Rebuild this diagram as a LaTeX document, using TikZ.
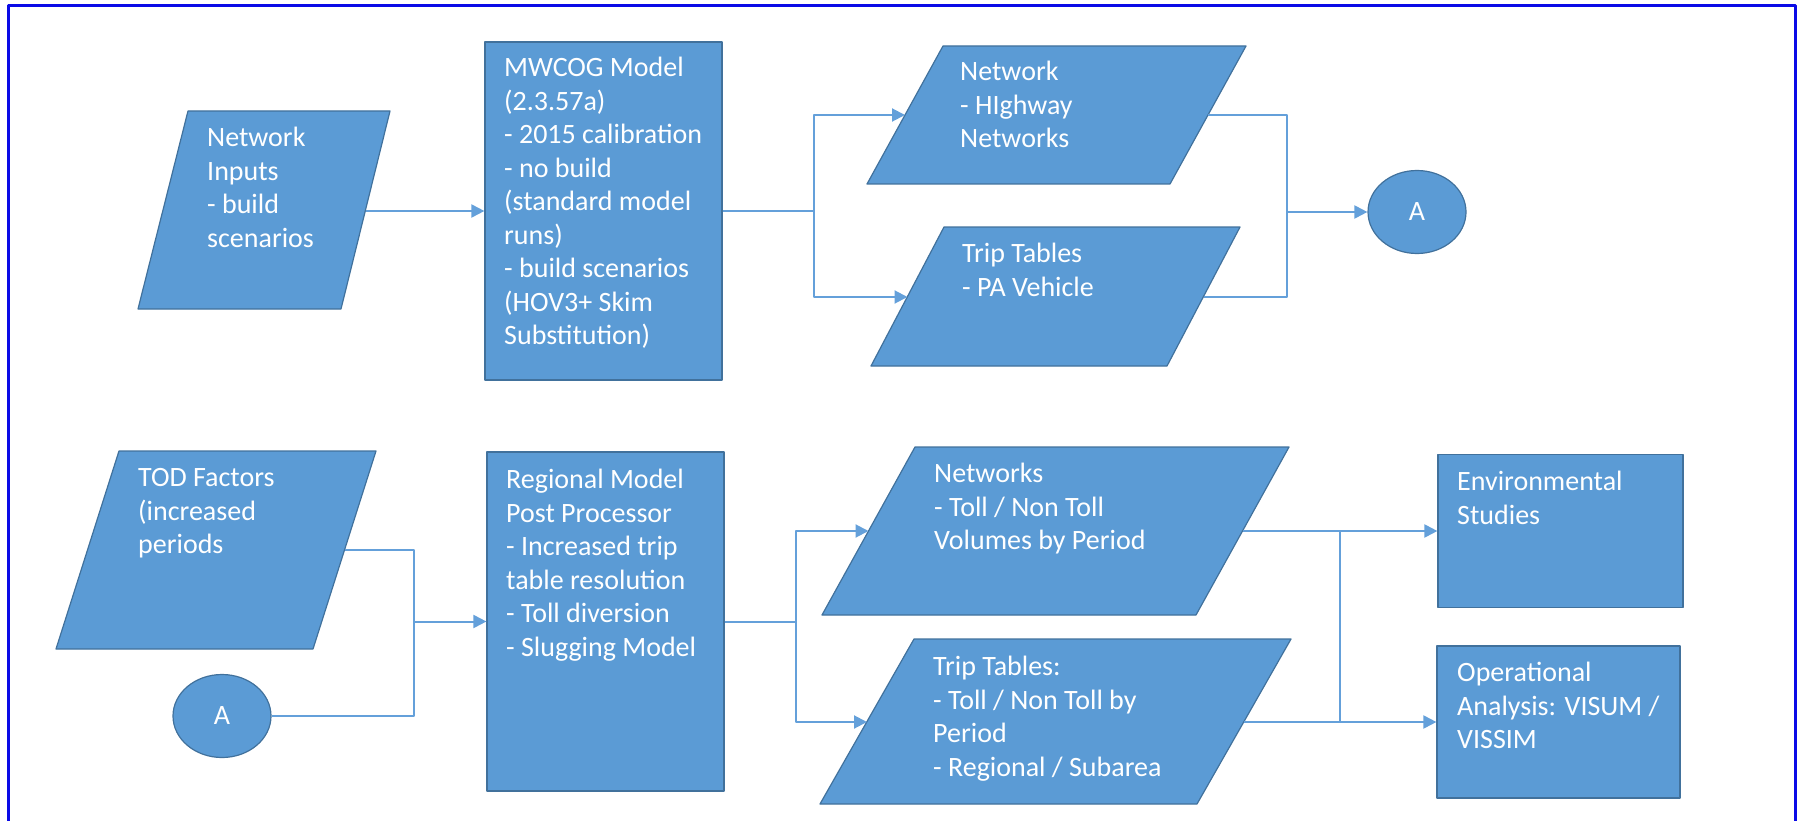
\documentclass[tikz,border=0pt]{standalone}
\usepackage{fontspec}
\setmainfont{Carlito}
\usetikzlibrary{arrows.meta,shapes.geometric}
\definecolor{boxblue}{RGB}{91,155,213}
\definecolor{edgeblue}{RGB}{65,113,156}
\definecolor{linkblue}{RGB}{100,160,218}
\definecolor{frameblue}{RGB}{10,10,230}
\begin{document}
\begin{tikzpicture}[line join=round,>={Triangle[length=13pt,width=13pt]},x=1pt,y=-1pt,
  shapefill/.style={fill=boxblue,draw=edgeblue,line width=1.2pt},
  procbox/.style={shapefill,rectangle,inner sep=0pt},
  conbox/.style={shapefill,ellipse,inner sep=0pt,minimum width=98pt,minimum height=83pt,text=white,font=\fontsize{28}{33.5}\selectfont},
  boxtext/.style={anchor=north west,inner sep=0pt,align=left,text=white,font=\fontsize{28}{33.5}\selectfont},
  link/.style={draw=linkblue,line width=2pt}]
\useasboundingbox (0,0) rectangle (1801,821);
\draw [frameblue,line width=3pt] (8,821) -- (8,6) -- (1795,6) -- (1795,821);
% top row
\draw [shapefill] (188,111) -- (390,111) -- (341,309) -- (138,309) -- cycle;
\draw [shapefill] (943,46) -- (1246,46) -- (1170,184) -- (867,184) -- cycle;
\draw [shapefill] (944,227) -- (1240,227) -- (1167,366) -- (871,366) -- cycle;
\node [procbox,minimum width=237pt,minimum height=338pt] (mwcog) at (603.5,211) {};
\node [conbox] (linkA) at (1417,212) {A};
\coordinate (inputs-e) at (365.5,211);
\coordinate (hwy-w) at (905,115);
\coordinate (hwy-e) at (1208,115);
\coordinate (trip-w) at (907.5,297);
\coordinate (trip-e) at (1203.5,297);
\coordinate (split-top) at (814,211);
\coordinate (join-top) at (1287,212);
\node [boxtext] (inputs-txt) at (207,123) {\strut Network\\Inputs\\- build\\scenarios};
\node [boxtext] (mwcog-txt) at (504,53) {\strut MWCOG Model\\(2.3.57a)\\- 2015 calibration\\- no build\\(standard model\\runs)\\- build scenarios\\(HOV3+ Skim\\Substitution)};
\node [boxtext] (hwy-txt) at (960,57) {\strut Network\\- HIghway\\Networks};
\node [boxtext] (trip-txt) at (962,239) {\strut Trip Tables\\- PA Vehicle};
\draw [link,->] (inputs-e) -- (mwcog.west);
\draw [link] (mwcog.east) -- (split-top);
\draw [link,->] (split-top) |- (hwy-w);
\draw [link,->] (split-top) |- (trip-w);
\draw [link] (hwy-e) -| (join-top) |- (trip-e);
\draw [link,->] (join-top) -- (linkA.west);
% bottom row
\draw [shapefill] (119,451) -- (376,451) -- (313,649) -- (56,649) -- cycle;
\draw [shapefill] (915,447) -- (1289,447) -- (1196,615) -- (822,615) -- cycle;
\draw [shapefill] (914,639) -- (1291,639) -- (1197,804) -- (820,804) -- cycle;
\node [procbox,minimum width=237pt,minimum height=339pt] (regional) at (605.5,621.5) {};
\node [procbox,minimum width=245pt,minimum height=153pt] (env) at (1560.5,531) {};
\node [procbox,minimum width=243pt,minimum height=152pt] (oper) at (1558.5,722) {};
\node [conbox] (backA) at (222,716) {A};
\coordinate (tod-e) at (344.5,550);
\coordinate (vol-w) at (868.5,531);
\coordinate (vol-e) at (1242.5,531);
\coordinate (tab-w) at (867,722);
\coordinate (tab-e) at (1244,722);
\coordinate (join-bot) at (414,621.5);
\coordinate (split-bot) at (796,621.5);
\coordinate (bus-t) at (1340,531);
\coordinate (bus-b) at (1340,722);
\node [boxtext] (tod-txt) at (138,463) {\strut TOD Factors\\(increased\\periods};
\node [boxtext] (regional-txt) at (506,465) {\strut Regional Model\\Post Processor\\- Increased trip\\table resolution\\- Toll diversion\\- Slugging Model};
\node [boxtext] (vol-txt) at (934,459) {\strut Networks\\- Toll / Non Toll\\Volumes by Period};
\node [boxtext] (tab-txt) at (933,652) {\strut Trip Tables:\\- Toll / Non Toll by\\Period\\- Regional / Subarea};
\node [boxtext] (env-txt) at (1457,467) {\strut Environmental\\Studies};
\node [boxtext] (oper-txt) at (1457,658) {\strut Operational\\Analysis: VISUM /\\VISSIM};
\draw [link] (tod-e) -| (join-bot) |- (backA.east);
\draw [link,->] (join-bot) -- (regional.west);
\draw [link] (regional.east) -- (split-bot);
\draw [link,->] (split-bot) |- (vol-w);
\draw [link,->] (split-bot) |- (tab-w);
\draw [link,->] (vol-e) -- (env.west);
\draw [link,->] (tab-e) -- (oper.west);
\draw [link] (bus-t) -- (bus-b);
\end{tikzpicture}
\end{document}
